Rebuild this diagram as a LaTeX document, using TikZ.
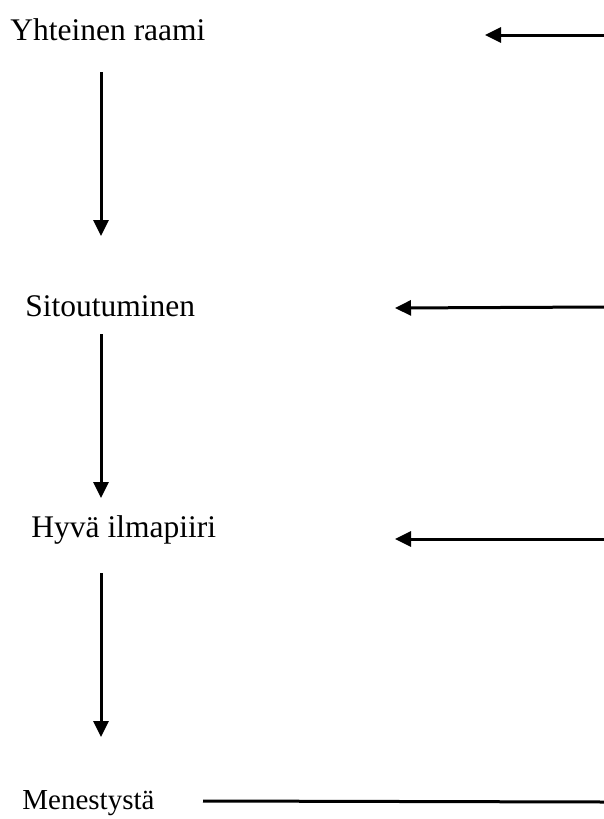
\documentclass[tikz,border=0pt]{standalone}
\usepackage{fontspec}
\setmainfont{Liberation Serif}
\usetikzlibrary{arrows.meta}

\begin{document}
\begin{tikzpicture}
		[
		x=0.5pt, y=-0.5pt,
		term/.style={
		anchor=base west,
		inner sep=0pt,
		font=\fontsize{15.75}{19}\selectfont},
		flow/.style={-{Triangle[length=8pt,width=7.5pt]}, line width=1.5pt}
		]
		\useasboundingbox (0,0) rectangle (604,819);
		% vaiheet
		\node[term](raami) at (10,40) {Yhteinen raami};
		\node[term](sitoutuminen) at (25,316) {Sitoutuminen};
		\node[term](ilmapiiri) at (31,537) {Hyvä ilmapiiri};
		\node[term,font=\fontsize{14.5}{17}\selectfont](menestys) at (22,809) {Menestystä};
		% pystynuolet
		\coordinate (a1) at (101,72);
		\coordinate (b1) at (101,236);
		\coordinate (a2) at (101,334);
		\coordinate (b2) at (101,498);
		\coordinate (a3) at (101,573);
		\coordinate (b3) at (101,737);
		\draw[flow] (a1) -- (b1);
		\draw[flow] (a2) -- (b2);
		\draw[flow] (a3) -- (b3);
		% oikean reunan nuolet
		\coordinate (r1) at (604,35);
		\coordinate (k1) at (485,35);
		\coordinate (r2) at (604,307);
		\coordinate (k2) at (395,308);
		\coordinate (r3) at (604,539);
		\coordinate (k3) at (395,539);
		\coordinate (r4) at (604,802);
		\coordinate (k4) at (203,801);
		\draw[flow] (r1) -- (k1);
		\draw[flow] (r2) -- (k2);
		\draw[flow] (r3) -- (k3);
		\draw[line width=1.5pt] (r4) -- (k4);
		\end{tikzpicture}
\end{document}
